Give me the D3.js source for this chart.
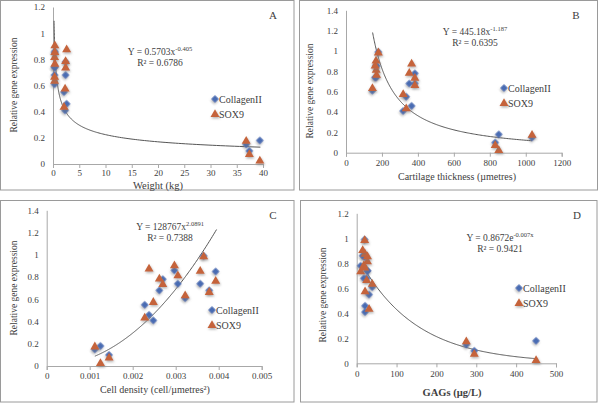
<!DOCTYPE html>
<html><head><meta charset="utf-8">
<script src="https://cdn.jsdelivr.net/npm/d3@7"></script>
<style>
body{margin:0;background:#fff}
svg{display:block}
svg text{font-family:"Liberation Serif","DejaVu Serif",serif !important;fill:#404040}
</style>
</head><body>
<svg id="chart" width="600" height="407"></svg>
<script>
// ---- data: 15 cartilage samples ----
const collagenII = [0.15,0.18,0.10,0.55,0.46,0.41,0.68,0.78,0.86,0.74,0.61,0.74,0.99,0.68,0.85];
const sox9       = [0.18,0.03,0.08,0.44,0.88,0.58,0.79,0.74,0.91,0.82,0.64,0.86,0.99,0.67,0.77];
const weightKg    = [36.8,39.4,37.4,2.1,2.6,2.3,2.4,2.4,0.35,0.3,0.3,0.35,null,0.3,0.35];
const thicknessUm = [1035,850,830,335,365,318,352,383,167,168,147,162,180,383,170];
const cellDensity = [0.00112,0.00125,0.00145,0.00228,0.00238,0.00248,0.00262,0.0027,0.00297,0.00305,0.00322,0.00357,0.00365,0.00378,0.00393];
const gagsUgL     = [275,450,295,31,21,21,18,10,15,27,39,27,20,25,20];

const seriesNames = ["CollagenII","SOX9"];
const xTicksA = [0,5,10,15,20,25,30,35,40];
const xTicksB = [0,200,400,600,800,1000,1200];
const xTicksC = [0,0.001,0.002,0.003,0.004,0.005];
const xTicksD = [0,100,200,300,400,500];
const yTicks12 = [0,0.2,0.4,0.6,0.8,1,1.2];
const yTicks14 = [0,0.2,0.4,0.6,0.8,1,1.2,1.4];

// trend lines (as printed on the chart)
const trendA = {type:"power", a:0.5703, b:-0.405, from:0.2, to:39.5, eq:["Y = 0.5703x","-0.405"], r2:"R² = 0.6786"};
const trendB = {type:"power", a:445.18, b:-1.187, from:148, to:1035, eq:["Y = 445.18x","-1.187"], r2:"R² = 0.6395"};
const trendC = {type:"power", a:128767, b:2.0891, from:0.00112, to:0.00395, eq:["Y = 128767x","2.0891"], r2:"R² = 0.7388"};
const trendD = {type:"exp", a:0.8672, b:-0.007, from:12, to:450, eq:["Y = 0.8672e","-0.007x"], r2:"R² = 0.9421"};

const FONT = "'Liberation Serif','DejaVu Serif',serif";
const svg = d3.select("#chart");
const defs = svg.append("defs");
const f = defs.append("filter").attr("id","sh").attr("x","-50%").attr("y","-50%").attr("width","200%").attr("height","200%");
f.append("feDropShadow").attr("dx",0.8).attr("dy",1.5).attr("stdDeviation",0.9).attr("flood-color","#777").attr("flood-opacity",0.55);

const colCol = "#4a6cb3", colSox = "#c5643a";

const panels = [
  {frame:[0.5,0.5,293.5,189.5], x:[53,263], y:[164,7], xd:[0,40], yd:[0,1.2], xt:xTicksA, yt:yTicks12, xs:weightKg,
   xlab:"Weight (kg)", xlabPos:[158,188.5], xlabSize:10.5, ylabPos:[14,85], letter:"A", letterPos:[273,19],
   trend:trendA, eqPos:[160,55], legPos:[215,99], xpad:2, xfmt:d=>String(d)},
  {frame:[299.5,0.5,298,189.5], x:[346,561.7], y:[152.7,10.3], xd:[0,1200], yd:[0,1.4], xt:xTicksB, yt:yTicks14, xs:thicknessUm,
   xlab:"Cartilage thickness (µmetres)", xlabPos:[457,179.5], xlabSize:10, ylabPos:[310,91], letter:"B", letterPos:[576,19],
   trend:trendB, eqPos:[475,35], legPos:[504,88], xpad:3, xfmt:d=>String(d)},
  {frame:[0.5,200.5,293.5,201.5], x:[46.7,261.7], y:[366,210.3], xd:[0,0.005], yd:[0,1.4], xt:xTicksC, yt:yTicks14, xs:cellDensity,
   xlab:"Cell density (cell/µmetres²)", xlabPos:[155,392.5], xlabSize:10, ylabPos:[14,288], letter:"C", letterPos:[273,219],
   trend:trendC, eqPos:[170,230], legPos:[212,310], xpad:3, xfmt:d=>String(+d.toFixed(3))},
  {frame:[300.5,200.5,296.5,201.5], x:[356.7,556], y:[363.3,213.3], xd:[0,500], yd:[0,1.2], xt:xTicksD, yt:yTicks12, xs:gagsUgL,
   xlab:"GAGs (µg/L)", xlabPos:[452,396], xlabSize:10.5, xlabBold:true, ylabPos:[323,295], letter:"D", letterPos:[577,219],
   trend:trendD, eqPos:[500,241], legPos:[519,288], xpad:3, xfmt:d=>String(d)}
];

const diamond = d3.symbol().type(d3.symbolSquare).size(29);
const triangle = d3.symbol().type(d3.symbolTriangle).size(35);

panels.forEach(p=>{
  const g = svg.append("g");
  g.append("rect").attr("x",p.frame[0]).attr("y",p.frame[1]).attr("width",p.frame[2]).attr("height",p.frame[3])
    .attr("fill","none").attr("stroke","#9a9a9a").attr("stroke-width",1);
  const x = d3.scaleLinear().domain(p.xd).range(p.x);
  const y = d3.scaleLinear().domain(p.yd).range(p.y);

  const xa = g.append("g").attr("transform",`translate(0,${p.y[0]})`)
    .call(d3.axisBottom(x).tickValues(p.xt).tickSize(4).tickPadding(p.xpad).tickFormat(p.xfmt));
  const ya = g.append("g").attr("transform",`translate(${p.x[0]},0)`)
    .call(d3.axisLeft(y).tickValues(p.yt).tickSize(0).tickPadding(8).tickFormat(d=>String(+d.toFixed(1))));
  [xa,ya].forEach(a=>{
    a.attr("font-family",FONT);
    a.select(".domain").attr("stroke","#a8a8a8");
    a.selectAll(".tick line").attr("stroke","#a8a8a8");
    a.selectAll(".tick text").attr("fill","#555").style("font-size","9px").style("font-family",FONT);
  });

  // axis titles
  g.append("text").attr("x",p.xlabPos[0]).attr("y",p.xlabPos[1]).attr("text-anchor","middle")
    .style("font-family",FONT).style("font-size",p.xlabSize+"px").style("font-weight",p.xlabBold?"bold":"normal").text(p.xlab);
  g.append("text").attr("transform",`translate(${p.ylabPos[0]},${p.ylabPos[1]}) rotate(-90)`).attr("text-anchor","middle")
    .attr("dy","0.35em").style("font-family",FONT).style("font-size","9.5px").text("Relative gene expression");
  g.append("text").attr("x",p.letterPos[0]).attr("y",p.letterPos[1]).attr("text-anchor","middle")
    .style("font-family",FONT).style("font-size","11px").text(p.letter);

  // trend line
  const t = p.trend;
  const n = 200;
  const pts = d3.range(n+1).map(i=>{
    const xv = t.type==="power" ? t.from*Math.pow(t.to/t.from,i/n) : t.from+(t.to-t.from)*i/n;
    const yv = t.type==="power" ? t.a*Math.pow(xv,t.b) : t.a*Math.exp(t.b*xv);
    return [xv,yv];
  });
  g.append("path").attr("d",d3.line().x(d=>x(d[0])).y(d=>y(d[1]))(pts))
    .attr("fill","none").attr("stroke","#555").attr("stroke-width",1);

  // equation
  const eq = g.append("text").attr("x",p.eqPos[0]).attr("y",p.eqPos[1]).attr("text-anchor","middle")
    .style("font-family",FONT).style("font-size","9.5px");
  eq.append("tspan").text(t.eq[0]);
  eq.append("tspan").attr("dy","-4").style("font-size","6.5px").text(t.eq[1]);
  g.append("text").attr("x",p.eqPos[0]).attr("y",p.eqPos[1]+11).attr("text-anchor","middle")
    .style("font-family",FONT).style("font-size","9.5px").text(t.r2);

  // points
  const idx = d3.range(collagenII.length).filter(i=>p.xs[i]!=null);
  g.append("g").selectAll("path").data(idx).join("path")
    .attr("d",diamond).attr("transform",i=>`translate(${x(p.xs[i])},${y(collagenII[i])}) rotate(45)`)
    .attr("fill",colCol).attr("filter","url(#sh)");
  g.append("g").selectAll("path").data(idx).join("path")
    .attr("d",triangle).attr("transform",i=>`translate(${x(p.xs[i])},${y(sox9[i])+0.8})`)
    .attr("fill",colSox).attr("filter","url(#sh)");

  // legend
  const lg = g.append("g");
  lg.append("path").attr("d",diamond).attr("transform",`translate(${p.legPos[0]},${p.legPos[1]}) rotate(45)`).attr("fill",colCol).attr("filter","url(#sh)");
  lg.append("text").attr("x",p.legPos[0]+4).attr("y",p.legPos[1]+3.5).style("font-family",FONT).style("font-size","10px").text(seriesNames[0]);
  lg.append("path").attr("d",triangle).attr("transform",`translate(${p.legPos[0]},${p.legPos[1]+15.5})`).attr("fill",colSox).attr("filter","url(#sh)");
  lg.append("text").attr("x",p.legPos[0]+4).attr("y",p.legPos[1]+18.5).style("font-family",FONT).style("font-size","10px").text(seriesNames[1]);
});
</script>
</body></html>
